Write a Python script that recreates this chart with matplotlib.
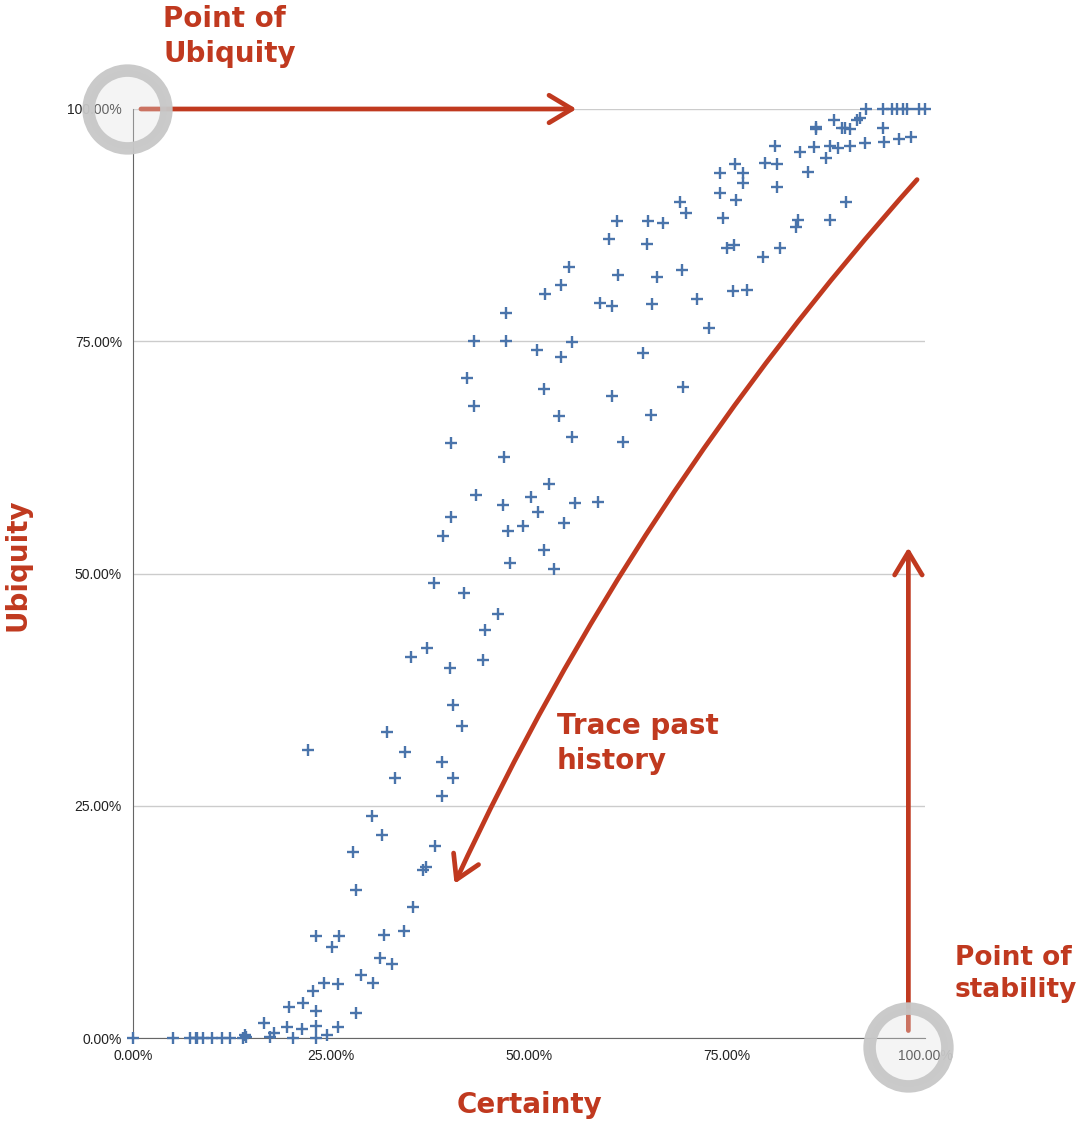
import matplotlib
matplotlib.use("Agg")
import matplotlib.pyplot as plt
from matplotlib.ticker import FixedLocator

# ---- data (percent) ----
certainty = [
    0, 5.05, 7.2, 7.95, 8.1, 8.8, 10.0, 11.2, 12.2, 13.9, 14.1, 14.3, 17.3, 20.2, 23.1, 24.5,
    17.8, 16.5, 19.4, 21.3, 23.1, 25.9, 19.7, 21.5, 23.1, 28.2, 22.7, 24.1, 25.9, 28.8, 30.3,
    23.1, 26.0, 25.1, 31.2, 32.7, 31.7, 34.2, 35.4, 28.2, 27.8, 36.6, 37.0, 38.1, 31.4, 30.2,
    39.0, 33.1, 40.4, 39.0, 34.3, 22.1, 32.1, 41.5, 40.4, 40.0, 35.1, 37.1, 44.2, 44.4, 46.1,
    41.8, 38.0, 47.6, 53.2, 51.9, 39.1, 47.3, 49.2, 54.4, 40.2, 51.1, 46.7, 55.8, 58.7, 50.3,
    43.3, 52.5, 46.8, 40.2, 61.9, 55.4, 53.8, 65.4, 43.1, 60.5, 51.9, 69.4, 42.2, 54.0, 64.4,
    51.0, 43.1, 47.1, 55.4, 72.7, 47.1, 60.5, 59.0, 65.5, 71.2, 52.0, 75.8, 77.5, 54.0, 61.2,
    66.2, 69.3, 55.1, 79.5, 64.9, 75.0, 75.9, 81.7, 60.1, 83.7, 61.1, 65.0, 66.9, 84.0, 88.0,
    74.5, 69.8, 69.1, 76.1, 90.0, 74.1, 81.3, 77.0, 77.0, 74.1, 85.2, 76.0, 79.8, 81.3, 87.5,
    84.2, 86.0, 81.1, 88.0, 89.0, 90.5, 92.4, 94.8, 96.7, 98.2, 86.2, 86.3, 89.5, 89.9, 90.5,
    94.7, 88.5, 91.4, 91.8, 92.6, 94.7, 95.8, 96.5, 97.2, 97.7, 99.2, 100.0,
]
ubiquity = [
    0, 0, 0, 0, 0, 0, 0, 0, 0, 0, 0.3, 0.1, 0.1, 0, 0, 0.3,
    0.5, 1.6, 1.2, 1.0, 1.3, 1.2, 3.3, 3.8, 2.9, 2.7, 5.1, 5.9, 5.8, 6.8, 5.9,
    11.0, 11.0, 9.8, 8.6, 8.0, 11.1, 11.5, 14.1, 15.9, 20.0, 18.1, 18.4, 20.7, 21.9, 23.9,
    26.0, 28.0, 28.0, 29.7, 30.8, 31.0, 32.9, 33.6, 35.8, 39.8, 41.0, 42.0, 40.7, 43.9, 45.6,
    47.9, 49.0, 51.1, 50.5, 52.5, 54.0, 54.6, 55.1, 55.4, 56.1, 56.6, 57.4, 57.6, 57.7, 58.2,
    58.5, 59.6, 62.5, 64.0, 64.2, 64.7, 67.0, 67.1, 68.0, 69.1, 69.9, 70.1, 71.0, 73.3, 73.7,
    74.1, 75.0, 75.0, 74.9, 76.4, 78.0, 78.8, 79.1, 79.0, 79.5, 80.1, 80.4, 80.5, 81.1, 82.1,
    81.9, 82.7, 83.0, 84.1, 85.5, 85.0, 85.4, 85.0, 86.0, 87.3, 87.9, 87.9, 87.7, 88.1, 88.1,
    88.3, 88.8, 90.0, 90.2, 90.0, 91.0, 91.6, 92.0, 93.1, 93.1, 93.2, 94.1, 94.2, 94.1, 94.7,
    95.4, 95.9, 96.0, 96.0, 95.8, 96.0, 96.3, 96.4, 96.8, 97.0, 98.1, 97.9, 98.0, 98.0, 97.8,
    98.0, 98.8, 98.8, 99.0, 100, 100, 100, 100, 100, 100, 100, 100,
]
tick_values = [0, 25, 50, 75, 100]
tick_labels = ["0.00%", "25.00%", "50.00%", "75.00%", "100.00%"]

# annotation anchors (data, percent)
ubiq_arrow = [(1.0, 100.0), (56.0, 100.0)]
stab_arrow = [(97.9, 0.8), (97.9, 52.8)]
trace_arrow = [(99.0, 92.4), (40.6, 16.6)]
circle_points = [(-0.8, 100.0), (97.8, -1.0)]

RED = "#c0391f"
BLUE = "#4a74ab"
HAND = ["DejaVu Sans"]

fig = plt.figure(figsize=(10.84, 11.25), dpi=100)
ax = fig.add_axes([133 / 1084, 1 - 1038 / 1125, 792 / 1084, (1038 - 109) / 1125])

ax.set_xlim(0, 100)
ax.set_ylim(0, 100)
ax.xaxis.set_major_locator(FixedLocator(tick_values))
ax.yaxis.set_major_locator(FixedLocator(tick_values))
ax.set_xticklabels(tick_labels)
ax.set_yticklabels(tick_labels)
ax.tick_params(length=0, labelsize=10, colors="#222222", pad=8)
for lab in ax.get_xticklabels() + ax.get_yticklabels():
    lab.set_family("Liberation Sans")
ax.grid(axis="y", color="#cccccc", lw=1)
ax.set_axisbelow(True)
for s in ["top", "right"]:
    ax.spines[s].set_visible(False)
ax.spines["left"].set_color("#666666")
ax.spines["bottom"].set_color("#666666")

ax.plot(certainty, ubiquity, linestyle="none", marker="+", markersize=9,
        markeredgewidth=1.7, color=BLUE, zorder=3, clip_on=False)

arrow_kw = dict(arrowstyle="->,head_length=0.75,head_width=0.45", lw=3.4,
                color=RED, mutation_scale=22, shrinkA=0, shrinkB=0)
ax.annotate("", xy=ubiq_arrow[1], xytext=ubiq_arrow[0],
            arrowprops=arrow_kw, annotation_clip=False, zorder=5)
ax.annotate("", xy=stab_arrow[1], xytext=stab_arrow[0],
            arrowprops=arrow_kw, annotation_clip=False, zorder=5)
ax.annotate("", xy=trace_arrow[1], xytext=trace_arrow[0],
            arrowprops=dict(connectionstyle="arc3,rad=0.075", **arrow_kw),
            annotation_clip=False, zorder=5)

# grey highlight circles
for cx, cy in circle_points:
    ax.plot([cx], [cy], marker="o", markersize=56, markeredgewidth=9,
            markerfacecolor=(0.88, 0.88, 0.88, 0.35),
            markeredgecolor=(0.78, 0.78, 0.78, 0.95),
            linestyle="none", clip_on=False, zorder=10)

# handwritten-style labels
tkw = dict(color=RED, fontweight="bold", family=HAND)
fig.text(163 / 1084, 1 - 5 / 1125, "Point of\nUbiquity", fontsize=20,
         va="top", ha="left", linespacing=1.3, **tkw)
fig.text(955 / 1084, 1 - 945 / 1125, "Point of\nstability", fontsize=19,
         va="top", ha="left", linespacing=1.3, **tkw)
fig.text(557 / 1084, 1 - 712 / 1125, "Trace past\nhistory", fontsize=20,
         va="top", ha="left", linespacing=1.3, **tkw)
fig.text(530 / 1084, 1 - 1105 / 1125, "Certainty", fontsize=20,
         va="center", ha="center", **tkw)
fig.text(18 / 1084, 1 - 565 / 1125, "Ubiquity", fontsize=20, rotation=90,
         va="center", ha="center", **tkw)

fig.savefig("out.png", dpi=100, facecolor="white")
